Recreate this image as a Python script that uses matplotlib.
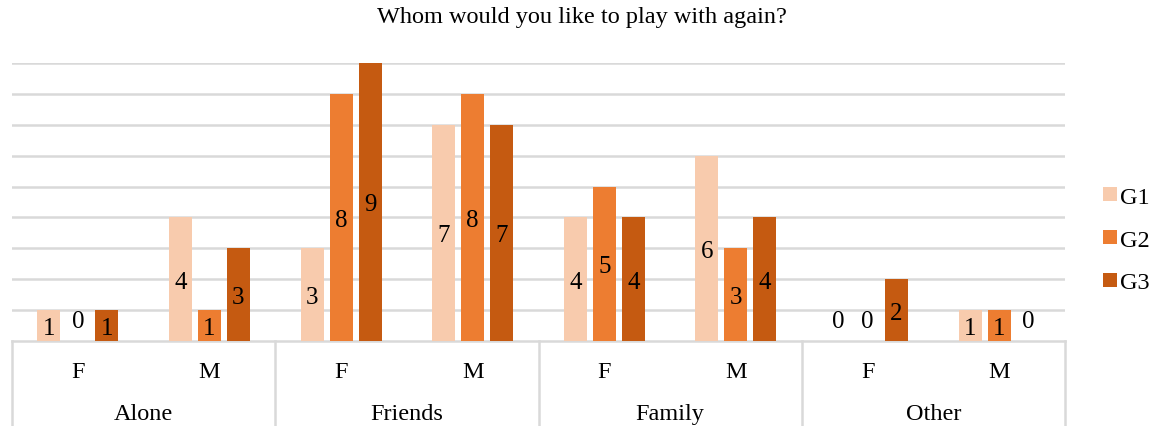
import matplotlib.pyplot as plt
import matplotlib.transforms as mtransforms
import numpy as np

# Preferences for who to play with again, split by sex and by game group
groups = ["Alone", "Friends", "Family", "Other"]
sexes = ["F", "M"]
series = ["G1", "G2", "G3"]
g1 = [1, 4, 3, 7, 4, 6, 0, 1]
g2 = [0, 1, 8, 8, 5, 3, 0, 1]
g3 = [1, 3, 9, 7, 4, 4, 2, 0]
colors = ["#F8CBAD", "#ED7D31", "#C55A11"]

plt.rcParams["font.family"] = ["Liberation Serif", "DejaVu Serif"]
FS = 17.5
FS_VAL = 18

fig = plt.figure(figsize=(11.6, 4.27), dpi=100)
ax = fig.add_axes([12 / 1160, 1 - 342 / 427, (1065 - 12) / 1160, (342 - 64) / 427])

n = len(g1)
x = np.arange(n) + 0.5
width = 0.175
step = 0.22

for k, (vals, col, name) in enumerate(zip([g1, g2, g3], colors, series)):
    pos = x + (k - 1) * step
    ax.bar(pos, vals, width=width, color=col, label=name, zorder=3)
    for px, v in zip(pos, vals):
        if v == 0:
            ax.text(px, 0.30, str(v), ha="center", va="bottom", fontsize=FS_VAL, zorder=4)
        else:
            ax.text(px, v / 2 - 0.08, str(v), ha="center", va="center", fontsize=FS_VAL, zorder=4)

ax.set_xlim(0, n)
ax.set_ylim(0, 9)
ax.set_yticks(range(1, 10))
ax.yaxis.grid(True, color="#D9D9D9", linewidth=1.8, zorder=0)
ax.tick_params(left=False, labelleft=False, bottom=False, labelbottom=False)
for s in ax.spines.values():
    s.set_visible(False)

# category axis drawn as a two-level table under the bars
trans = mtransforms.blended_transform_factory(ax.transData, ax.transAxes)
ax.plot([0, n], [0, 0], transform=trans, color="#D9D9D9", lw=1.8, clip_on=False, zorder=2)
for b in range(0, n + 1, 2):
    ax.plot([b, b], [0, -0.35], transform=trans, color="#D9D9D9", lw=1.8, clip_on=False)
for i in range(n):
    ax.text(x[i], -0.11, sexes[i % 2], transform=trans, ha="center", va="center", fontsize=FS)
for j, g in enumerate(groups):
    ax.text(2 * j + 1, -0.262, g, transform=trans, ha="center", va="center", fontsize=FS)

fig.text(0.502, 1 - 18 / 427, "Whom would you like to play with again?", ha="center", va="center", fontsize=FS)

ax.legend(loc="center left", bbox_to_anchor=(1.025, 0.363), frameon=False, fontsize=FS,
          handlelength=0.55, handleheight=0.55, handletextpad=0.15, labelspacing=0.9,
          borderpad=0)

fig.savefig("out.png", dpi=100)
